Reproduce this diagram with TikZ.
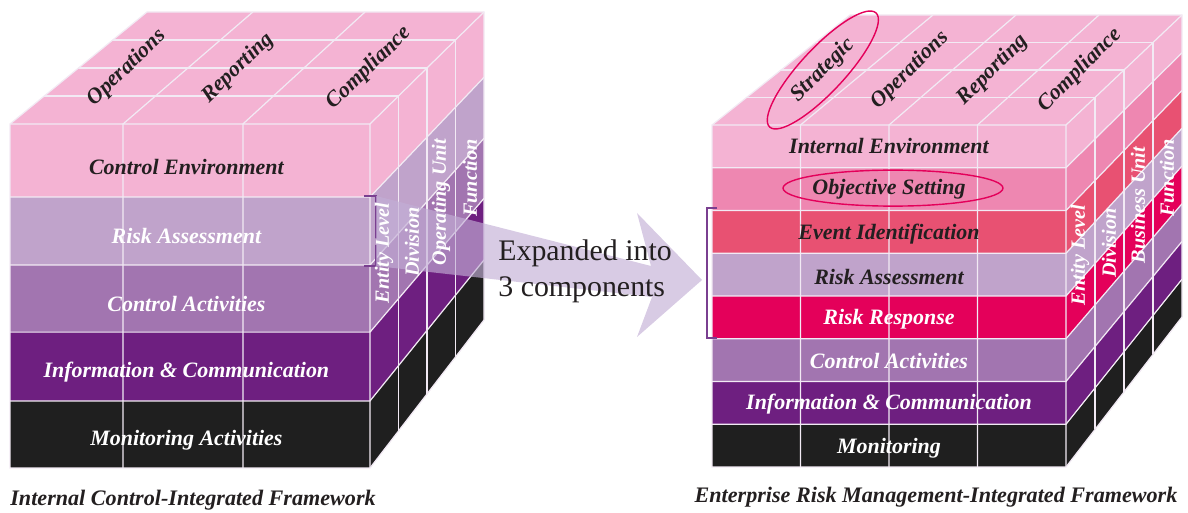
\documentclass[tikz,border=0pt]{standalone}
\usepackage{fontspec}
\setmainfont{Liberation Serif}
\usetikzlibrary{calc}

\definecolor{pinkc}{HTML}{F4B3D3}
\definecolor{objc}{HTML}{EE87B1}
\definecolor{eventc}{HTML}{E85172}
\definecolor{lilac}{HTML}{C0A3CB}
\definecolor{crimson}{HTML}{E4005A}
\definecolor{mauve}{HTML}{A275B0}
\definecolor{plum}{HTML}{6E1F80}
\definecolor{nearblack}{HTML}{1F1F1F}
\definecolor{ink}{HTML}{231F20}
\definecolor{gridc}{HTML}{F2EAF4}
\definecolor{arrowc}{HTML}{C3AFD6}
\definecolor{brkc}{HTML}{7A3F90}

\newcommand{\lblfont}{\fontsize{12.5}{14}\selectfont\bfseries\itshape}
\newcommand{\sidefont}{\fontsize{11.5}{13}\selectfont\bfseries\itshape}
\newcommand{\capfont}{\fontsize{12.6}{14}\selectfont\bfseries\itshape}
\newcommand{\expfont}{\fontsize{17}{20.5}\selectfont}

\begin{document}
\begin{tikzpicture}[x=0.02cm,y=-0.02cm,
 gl/.style={draw=gridc,line width=.7pt},
 band/.style={font=\lblfont,inner sep=0pt},
 toplbl/.style={font=\lblfont,text=ink,inner sep=0pt},
 sidelbl/.style={font=\sidefont,text=white,rotate=90,inner sep=0pt},
 oval/.style={draw=crimson,line width=.8pt},
 brk/.style={draw=brkc,line width=.6pt},
 expand/.style={fill=arrowc,fill opacity=.65},
 caption/.style={font=\capfont,text=ink,inner sep=0pt}]
\useasboundingbox (0,0) rectangle (1188,513);

% ---------- internal control cube ----------
\coordinate (LA) at (10,124);
\coordinate (LB) at (370,124);
\coordinate (LC) at (370,468);
\coordinate (LD) at (10,468);
\coordinate (LE) at (147,12);
\coordinate (LF) at (484,12);
\coordinate (LG) at (484,320);

\fill[pinkc] (LA) -- (LB) -- (LF) -- (LE) -- cycle;
\foreach \ta/\tb/\col in {0/.212/pinkc,.212/.410/lilac,.410/.605/mauve,.605/.805/plum,.805/1/nearblack}{
  \fill[\col] ($(LA)!\ta!(LD)$) rectangle ($(LB)!\tb!(LC)$);
  \fill[\col] ($(LB)!\ta!(LC)$) -- ($(LF)!\ta!(LG)$) -- ($(LF)!\tb!(LG)$) -- ($(LB)!\tb!(LC)$) -- cycle;
}
% grid
\foreach \t in {.212,.410,.605,.805}
  \draw[gl] ($(LA)!\t!(LD)$) -- ($(LB)!\t!(LC)$) -- ($(LF)!\t!(LG)$);
\foreach \s in {.314,.647}
  \draw[gl] ($(LD)!\s!(LC)$) -- ($(LA)!\s!(LB)$) -- ($(LE)!\s!(LF)$);
\foreach \t in {.25,.5,.75}
  \draw[gl] ($(LA)!\t!(LE)$) -- ($(LB)!\t!(LF)$) -- ($(LC)!\t!(LG)$);
\draw[gl] (LD) -- (LA) -- (LE) -- (LF) -- (LG) -- (LC) -- cycle;
\draw[gl] (LA) -- (LB) -- (LC) (LB) -- (LF);

% bracket and arrow to the second cube
\coordinate (lbrt) at (376,196);
\coordinate (lbrb) at (376,266);
\draw[brk] (364,196) -- (lbrt) -- (lbrb) -- (364,266);
\fill[expand] (lbrt) -- (651,266) -- (637,213) -- (702,280) -- (637,337) -- (652,297) -- (lbrb) -- cycle;
\node[anchor=west,align=left,font=\expfont,text=ink,inner sep=0pt] (expl) at (498,271) {Expanded into\\3 components};

\foreach \tm/\txt/\tc [count=\i] in {.126/Control Environment/ink,.326/Risk Assessment/white,
    .522/Control Activities/white,.722/Information \& Communication/white,.918/Monitoring Activities/white}
  \node[band,text=\tc] (lb\i) at ($($(LA)!\tm!(LD)$)!.49!($(LB)!\tm!(LC)$)$) {\txt};
\foreach \s/\txt [count=\i] in {.139/Operations,.458/Reporting,.834/Compliance}
  \node[toplbl,rotate=44] (lt\i) at ($($(LA)!.5!(LE)$)!\s!($(LB)!.5!(LF)$)$) {\txt};
\node[sidelbl] (ls1) at (384,253) {Entity Level};
\node[sidelbl] (ls2) at (412,242) {Division};
\node[sidelbl] (ls3) at (441,202) {Operating Unit};
\node[sidelbl] (ls4) at (470,178) {Function};

% ---------- enterprise risk management cube ----------
\coordinate (RA) at (712,125);
\coordinate (RB) at (1066,125);
\coordinate (RC) at (1066,467);
\coordinate (RD) at (712,467);
\coordinate (RE) at (850,15);
\coordinate (RF) at (1182,15);
\coordinate (RG) at (1182,317);

\fill[pinkc] (RA) -- (RB) -- (RF) -- (RE) -- cycle;
\foreach \ta/\tb/\col in {0/.125/pinkc,.125/.25/objc,.25/.375/eventc,.375/.5/lilac,
    .5/.625/crimson,.625/.75/mauve,.75/.875/plum,.875/1/nearblack}{
  \fill[\col] ($(RA)!\ta!(RD)$) rectangle ($(RB)!\tb!(RC)$);
  \fill[\col] ($(RB)!\ta!(RC)$) -- ($(RF)!\ta!(RG)$) -- ($(RF)!\tb!(RG)$) -- ($(RB)!\tb!(RC)$) -- cycle;
}
% grid
\foreach \t in {.125,.25,.375,.5,.625,.75,.875}
  \draw[gl] ($(RA)!\t!(RD)$) -- ($(RB)!\t!(RC)$) -- ($(RF)!\t!(RG)$);
\foreach \s in {.25,.5,.75}
  \draw[gl] ($(RD)!\s!(RC)$) -- ($(RA)!\s!(RB)$) -- ($(RE)!\s!(RF)$);
\foreach \t in {.25,.5,.75}
  \draw[gl] ($(RA)!\t!(RE)$) -- ($(RB)!\t!(RF)$) -- ($(RC)!\t!(RG)$);
\draw[gl] (RD) -- (RA) -- (RE) -- (RF) -- (RG) -- (RC) -- cycle;
\draw[gl] (RA) -- (RB) -- (RC) (RB) -- (RF);

\draw[brk] (717,208) -- (707,208) -- (707,338) -- (717,338);

\foreach \tm/\txt/\tc [count=\i] in {.0625/Internal Environment/ink,.1875/Objective Setting/ink,
    .318/Event Identification/ink,.443/Risk Assessment/ink,.567/Risk Response/white,
    .69/Control Activities/white,.815/Information \& Communication/white,.944/Monitoring/white}
  \node[band,text=\tc] (rb\i) at ($($(RA)!\tm!(RD)$)!.5!($(RB)!\tm!(RC)$)$) {\txt};
\foreach \s/\txt [count=\i] in {.122/Strategic,.376/Operations,.618/Reporting,.872/Compliance}
  \node[toplbl,rotate=45] (rt\i) at ($($(RA)!.5!(RE)$)!\s!($(RB)!.5!(RF)$)$) {\txt};
\node[sidelbl] (rs1) at (1080,255) {Entity Level};
\node[sidelbl] (rs2) at (1109,243) {Division};
\node[sidelbl] (rs3) at (1138,205) {Business Unit};
\node[sidelbl] (rs4) at (1167,178) {Function};

% highlighted items
\draw[oval,rotate around={47:(rt1.center)}] (rt1.center) ellipse [x radius=1.56cm,y radius=.44cm];
\draw[oval] ($(rb2.center)+(4,-1)$) ellipse [x radius=2.2cm,y radius=.36cm];

% captions
\node[caption,anchor=west] (lcap) at (10,500) {Internal Control-Integrated Framework};
\node[caption] (rcap) at (936,497) {Enterprise Risk Management-Integrated Framework};
\end{tikzpicture}
\end{document}
